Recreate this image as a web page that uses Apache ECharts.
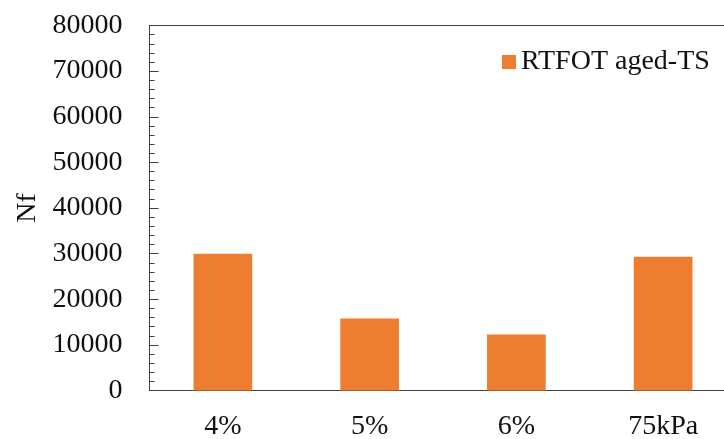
<!DOCTYPE html>
<html>
<head>
<meta charset="utf-8">
<script src="https://cdn.jsdelivr.net/npm/echarts@6/dist/echarts.min.js"></script>
<style>
  html, body { margin: 0; padding: 0; background: #fff; }
  #chart { width: 724px; height: 439px; }
</style>
</head>
<body>
<div id="chart"></div>
<script>
// Fatigue life (Nf) per test condition
const categories = ['4%', '5%', '6%', '75kPa'];
const seriesName = 'RTFOT aged-TS';
const nfValues = [30000, 15800, 12300, 29300];
const yTicks = { min: 0, max: 80000, interval: 10000 };

const serif = '"Liberation Serif", "Times New Roman", serif';
const axisColor = '#404040';
const textColor = '#111';

const chart = echarts.init(document.getElementById('chart'), null, { renderer: 'canvas' });
chart.setOption({
  animation: false,
  backgroundColor: '#ffffff',
  grid: {
    left: 149.5,
    top: 25.5,
    width: 587,
    height: 365,
    outerBoundsMode: 'none',
    containLabel: false,
    show: true,
    borderColor: axisColor,
    borderWidth: 1,
    backgroundColor: 'transparent'
  },
  legend: {
    data: [seriesName],
    left: 497,
    top: 43,
    icon: 'rect',
    itemWidth: 14,
    itemHeight: 14,
    itemGap: 6,
    textStyle: { fontFamily: serif, fontSize: 28, color: textColor }
  },
  xAxis: {
    type: 'category',
    data: categories,
    axisLine: { lineStyle: { color: axisColor, width: 1 } },
    axisTick: { show: false },
    axisLabel: { fontFamily: serif, fontSize: 28, color: textColor, margin: 22 }
  },
  yAxis: {
    type: 'value',
    min: yTicks.min,
    max: yTicks.max,
    interval: yTicks.interval,
    name: 'Nf',
    nameLocation: 'middle',
    nameGap: 100,
    nameRotate: 90,
    nameTextStyle: { fontFamily: serif, fontSize: 28, color: textColor },
    axisLine: { show: true, lineStyle: { color: axisColor, width: 1 } },
    axisTick: { show: true, inside: true, length: 9, lineStyle: { color: axisColor } },
    minorTick: { show: true, splitNumber: 5, length: 5, lineStyle: { color: axisColor } },
    splitLine: { show: false },
    axisLabel: {
      fontFamily: serif, fontSize: 28, color: textColor, margin: 27,
      formatter: (v) => String(v)
    }
  },
  series: [{
    name: seriesName,
    type: 'bar',
    data: nfValues,
    barCategoryGap: '60%',
    itemStyle: { color: '#ED7D31' }
  }]
});
</script>
</body>
</html>
